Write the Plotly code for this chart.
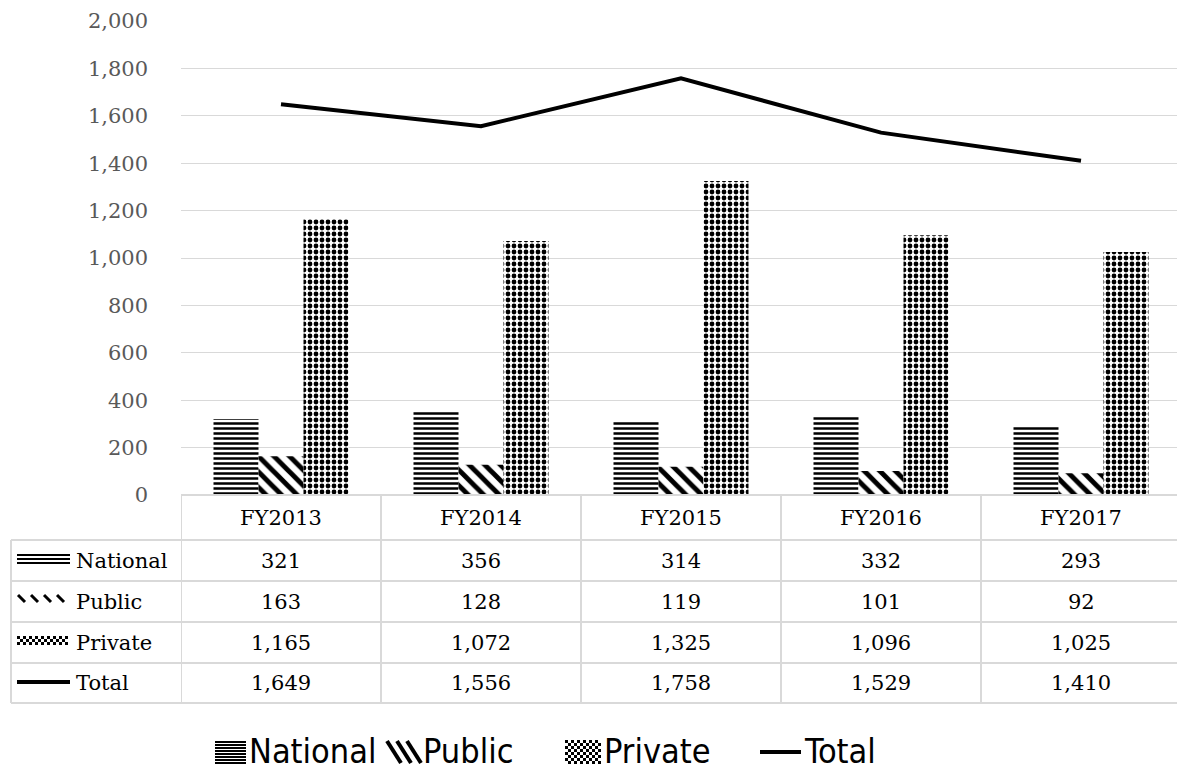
import plotly.graph_objects as go

# Fiscal years and counts by institution type
years = ["FY2013", "FY2014", "FY2015", "FY2016", "FY2017"]
national = [321, 356, 314, 332, 293]
public = [163, 128, 119, 101, 92]
private = [1165, 1072, 1325, 1096, 1025]
total = [1649, 1556, 1758, 1529, 1410]
series_names = ["National", "Public", "Private", "Total"]
y_ticks = [0, 200, 400, 600, 800, 1000, 1200, 1400, 1600, 1800, 2000]

W, H = 1177, 771
L, T = 181, 21
PLOT_W, PLOT_H = 996, 474
B = H - T - PLOT_H

SERIF = "DejaVu Serif"
SANS = "DejaVu Sans Condensed, Noto Sans"


def px_x(px):
    return (px - L) / PLOT_W


def px_y(py):
    return (T + PLOT_H - py) / PLOT_H


def hline(x0, x1, y, width):
    return dict(type="line", xref="paper", yref="paper",
                x0=px_x(x0), x1=px_x(x1), y0=px_y(y), y1=px_y(y),
                line=dict(color="black", width=width))


def seg(x0, y0, x1, y1, width):
    return dict(type="line", xref="paper", yref="paper",
                x0=px_x(x0), x1=px_x(x1), y0=px_y(y0), y1=px_y(y1),
                line=dict(color="black", width=width))


def checker(x0, y0, cols, rows, sq):
    out = []
    for r in range(rows):
        for c in range(cols):
            if (r + c) % 2 == 0:
                xa, ya = x0 + c * sq, y0 + r * sq
                out.append(dict(type="rect", xref="paper", yref="paper",
                                x0=px_x(xa), x1=px_x(xa + sq), y0=px_y(ya), y1=px_y(ya + sq),
                                fillcolor="black", line=dict(width=0)))
    return out


fig = go.Figure()

fig.add_trace(go.Bar(
    x=years, y=national, name=series_names[0],
    marker=dict(color="white", line=dict(width=0),
                pattern=dict(shape="-", fgcolor="black", bgcolor="white",
                             size=5, solidity=0.5, fillmode="replace")),
))
fig.add_trace(go.Bar(
    x=years, y=public, name=series_names[1],
    marker=dict(color="white", line=dict(width=0),
                pattern=dict(shape="\\", fgcolor="black", bgcolor="white",
                             size=11, solidity=0.45, fillmode="replace")),
))
fig.add_trace(go.Bar(
    x=years, y=private, name=series_names[2],
    marker=dict(color="white", line=dict(width=0),
                pattern=dict(shape=".", fgcolor="black", bgcolor="white",
                             size=6, solidity=0.5, fillmode="replace")),
))
fig.add_trace(go.Scatter(
    x=years, y=total, name=series_names[3], mode="lines",
    line=dict(color="black", width=4),
))

# Data table under the plot area
row_edges = [495, 540, 581, 622, 663, 703]
grid_col = "#d9d9d9"
shapes = []
shapes.append(dict(type="line", xref="paper", yref="paper",
                   x0=px_x(L), x1=1.01, y0=px_y(row_edges[0]), y1=px_y(row_edges[0]),
                   line=dict(color=grid_col, width=2)))
for e in row_edges[1:]:
    shapes.append(dict(type="line", xref="paper", yref="paper",
                       x0=px_x(11), x1=1.01, y0=px_y(e), y1=px_y(e),
                       line=dict(color=grid_col, width=2)))
shapes.append(dict(type="line", xref="paper", yref="paper",
                   x0=px_x(11), x1=px_x(11), y0=px_y(row_edges[1]), y1=px_y(row_edges[-1]),
                   line=dict(color=grid_col, width=2)))
for i in range(len(years) + 1):
    shapes.append(dict(type="line", xref="x", yref="paper",
                       x0=i - 0.5, x1=i - 0.5, y0=px_y(row_edges[0]), y1=px_y(row_edges[-1]),
                       line=dict(color=grid_col, width=2)))

# series keys in the table's label column
ix0, ix1 = 17, 70
for yy in (555, 559, 563):
    shapes.append(hline(ix0, ix1, yy, 2))
for xx in range(ix0 + 1, ix1 - 4, 13):
    shapes.append(seg(xx, 595, xx + 7, 602, 3))
shapes += checker(ix0, 636, (ix1 - ix0) // 3, 3, 3)
shapes.append(hline(ix0, ix1, 682, 4))

# legend keys below the table
for yy in range(742, 765, 3):
    shapes.append(hline(215, 246, yy, 2))
for xx in (387, 397, 407):
    shapes.append(seg(xx, 741, xx + 14, 763, 4))
shapes += checker(565, 740, 12, 8, 3)
shapes.append(hline(760, 801, 752, 4))

annotations = []
tfont = dict(family=SERIF, size=21, color="black")
hdr_mid = (row_edges[0] + row_edges[1]) / 2
for i, yr in enumerate(years):
    annotations.append(dict(x=i, y=px_y(hdr_mid), xref="x", yref="paper", text=yr,
                            showarrow=False, font=tfont, xanchor="center", yanchor="middle"))
rows = [national, public, private, total]
for r, (name, vals) in enumerate(zip(series_names, rows)):
    mid = (row_edges[r + 1] + row_edges[r + 2]) / 2
    annotations.append(dict(x=px_x(74), y=px_y(mid), xref="paper", yref="paper", text=name,
                            showarrow=False, font=tfont, xanchor="left", yanchor="middle"))
    for i, v in enumerate(vals):
        annotations.append(dict(x=i, y=px_y(mid), xref="x", yref="paper", text=f"{v:,}",
                                showarrow=False, font=tfont, xanchor="center", yanchor="middle"))

lfont = dict(family=SANS, size=34, color="black")
for name, lx in zip(series_names, (247, 421, 602, 802)):
    annotations.append(dict(x=px_x(lx), y=px_y(751), xref="paper", yref="paper", text=name,
                            showarrow=False, font=lfont, xanchor="left", yanchor="middle"))

fig.update_layout(
    width=W, height=H,
    margin=dict(l=L, r=0, t=T, b=B, autoexpand=False),
    paper_bgcolor="white", plot_bgcolor="white",
    barmode="group", bargap=0.325, bargroupgap=0,
    showlegend=False,
    shapes=shapes, annotations=annotations,
    xaxis=dict(range=[-0.5, 4.48], showticklabels=False, showgrid=False,
               zeroline=False, showline=False, ticks=""),
    yaxis=dict(range=[0, 2000], tickvals=y_ticks, ticktext=[f"{v:,}" for v in y_ticks],
               showgrid=True, gridcolor=grid_col, gridwidth=1, zeroline=False,
               showline=False, ticks="", ticklabelstandoff=32,
               tickfont=dict(family=SERIF, size=21, color="#595959")),
)

fig.write_html("out.html")
